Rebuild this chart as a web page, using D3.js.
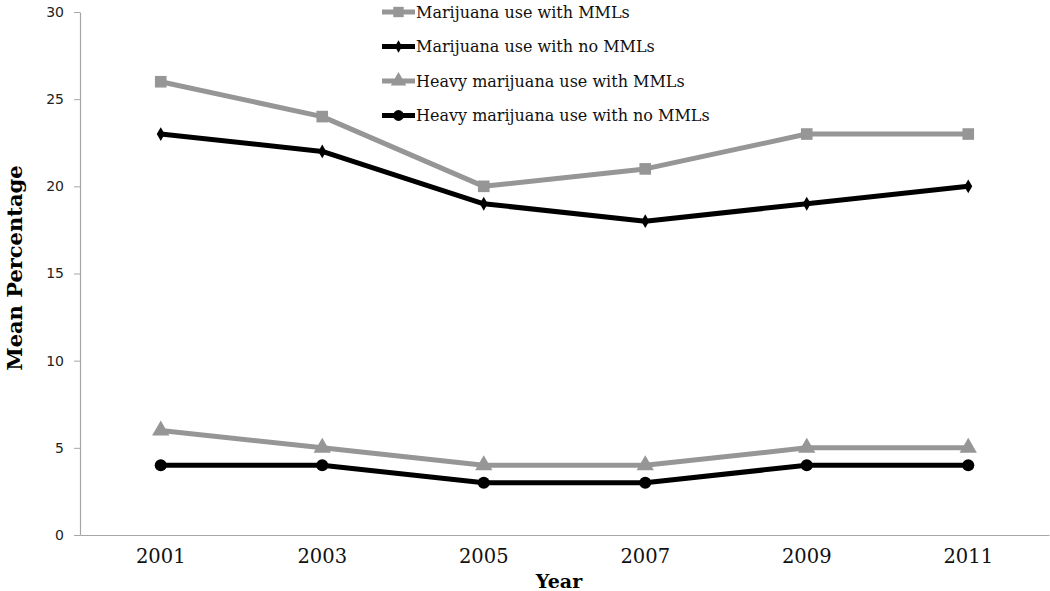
<!DOCTYPE html>
<html><head><meta charset="utf-8">
<script src="https://cdn.jsdelivr.net/npm/d3@7"></script>
<style>body{margin:0;background:#fff}svg{display:block}</style>
</head><body>
<svg id="c" width="1050" height="591"></svg>
<script>
const years = ["2001","2003","2005","2007","2009","2011"];
const mmlUse = [26,24,20,21,23,23];
const noMmlUse = [23,22,19,18,19,20];
const heavyMml = [6,5,4,4,5,5];
const heavyNoMml = [4,4,3,3,4,4];
const seriesNames = ["Marijuana use with MMLs","Marijuana use with no MMLs","Heavy marijuana use with MMLs","Heavy marijuana use with no MMLs"];
const yTicks = [0,5,10,15,20,25,30];

(function(){
const GREY = "#969696", BLACK = "#000000";
const series = [
  {name: seriesNames[0], values: mmlUse, color: GREY, marker: "square"},
  {name: seriesNames[1], values: noMmlUse, color: BLACK, marker: "diamond"},
  {name: seriesNames[2], values: heavyMml, color: GREY, marker: "triangle"},
  {name: seriesNames[3], values: heavyNoMml, color: BLACK, marker: "circle"}
];

const svg = d3.select("#c");
const mL = 80, mR = 1049, mT = 12, mB = 535;
const x = d3.scaleBand().domain(years).range([mL, mR]);
const y = d3.scaleLinear().domain([0, 30]).range([mB, mT]);

// y axis
const ya = svg.append("g").attr("transform", `translate(${mL},0)`)
  .call(d3.axisLeft(y).tickValues(yTicks).tickSize(6).tickPadding(10).tickSizeOuter(0));
ya.select(".domain").attr("stroke", "#a6a6a6").attr("stroke-width", 1.2);
ya.selectAll(".tick line").attr("stroke", "#a6a6a6");
ya.selectAll(".tick text").attr("font-family", "DejaVu Sans, sans-serif").attr("font-size", 14).attr("fill", "#222");

// x axis
const xa = svg.append("g").attr("transform", `translate(0,${mB})`)
  .call(d3.axisBottom(x).tickSize(0).tickPadding(14).tickSizeOuter(0));
xa.select(".domain").attr("stroke", "#a6a6a6").attr("stroke-width", 1.2);
xa.selectAll(".tick text").attr("font-family", "DejaVu Serif, serif").attr("font-size", 19.5).attr("fill", "#111");

// titles
svg.append("text").attr("transform", "translate(22,268) rotate(-90)").attr("text-anchor", "middle")
  .attr("font-family", "DejaVu Serif, serif").attr("font-weight", "bold").attr("font-size", 21).text("Mean Percentage");
svg.append("text").attr("x", 559).attr("y", 588).attr("text-anchor", "middle")
  .attr("font-family", "DejaVu Serif, serif").attr("font-weight", "bold").attr("font-size", 19).text("Year");

const symType = {square: d3.symbolSquare, diamond: d3.symbolDiamond, triangle: d3.symbolTriangle, circle: d3.symbolCircle};
const symSize = {square: 135, diamond: 55, triangle: 130, circle: 115};
const cx = (d, i) => x(years[i]) + x.bandwidth() / 2;

const line = d3.line().x((d, i) => cx(d, i)).y(d => y(d));
series.forEach(s => {
  svg.append("path").datum(s.values).attr("d", line).attr("fill", "none")
    .attr("stroke", s.color).attr("stroke-width", 5).attr("stroke-linejoin", "round");
  svg.append("g").selectAll("path").data(s.values).join("path")
    .attr("transform", (d, i) => `translate(${cx(d, i)},${y(d)})`)
    .attr("d", d3.symbol().type(symType[s.marker]).size(symSize[s.marker]))
    .attr("fill", s.color);
});

// legend
const lg = svg.append("g");
series.forEach((s, i) => {
  const ly = 12 + i * 34.5;
  lg.append("line").attr("x1", 382).attr("x2", 415).attr("y1", ly).attr("y2", ly)
    .attr("stroke", s.color).attr("stroke-width", 5);
  lg.append("path").attr("transform", `translate(398.5,${ly})`)
    .attr("d", d3.symbol().type(symType[s.marker]).size(symSize[s.marker] * 0.8)).attr("fill", s.color);
  lg.append("text").attr("x", 416).attr("y", ly).attr("dy", "0.35em")
    .attr("font-family", "DejaVu Serif, serif").attr("font-size", 16).attr("fill", "#111").text(s.name);
});
})();
</script>
</body></html>
